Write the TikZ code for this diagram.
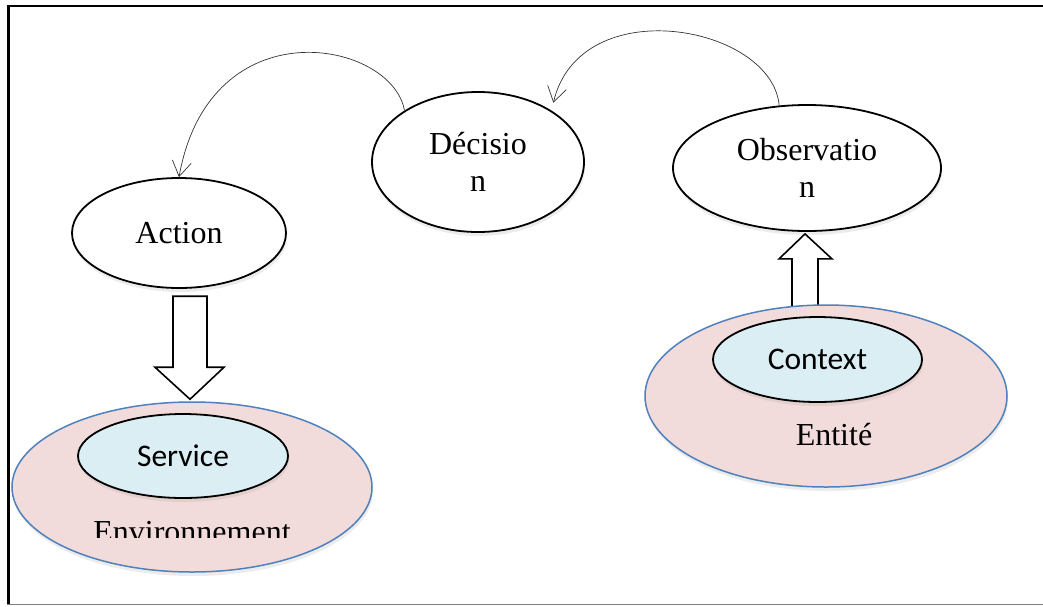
\documentclass[tikz,border=0pt]{standalone}
\usepackage{fontspec}
\setmainfont{Liberation Serif}
\newfontfamily\calfont{Carlito}
\usetikzlibrary{shapes.geometric,arrows.meta,shadows,calc}
\definecolor{pinkf}{HTML}{F2DCDB}
\definecolor{bluef}{HTML}{DBEEF4}
\definecolor{blueb}{HTML}{4F81BD}
\begin{document}
\begin{tikzpicture}[x=1pt,y=-1pt,
  oval/.style={ellipse, draw=black, line width=1.8pt, fill=white, inner sep=0pt,
    font=\fontsize{32}{37}\selectfont, align=center},
  outerov/.style={ellipse, draw=blueb, line width=1.5pt, fill=pinkf, inner sep=0pt},
  innerov/.style={ellipse, draw=black, line width=1.8pt, fill=bluef, inner sep=0pt,
    font=\calfont\fontsize{31.5}{36}\selectfont},
  txt/.style={font=\fontsize{32}{37}\selectfont, anchor=base, inner sep=0pt},
  blk/.style={draw=black, line width=1.6pt, fill=white, line join=miter},
  curve/.style={draw=black!80, line width=0.7pt,
    -{Straight Barb[length=15pt,width=19pt,line width=0.7pt]}},
  shad/.style={drop shadow={opacity=0.15, shadow xshift=1pt, shadow yshift=-4pt}}
]
\useasboundingbox (0,0) rectangle (1043,606);
\fill[white] (0,0) rectangle (1043,606);
% frame
\draw[line width=2.5pt] (1043,6) -- (8.5,6) -- (8.5,603.5);
\draw[gray, line width=1.5pt] (7,604.5) -- (1043,604.5);

% top ellipses
\node[oval, shad, minimum width=214pt, minimum height=110pt] (act) at (179,233) {Action};
\node[oval, shad, minimum width=212pt, minimum height=140pt] (dec) at (478,162) {Décisio\\n};
\node[oval, shad, minimum width=268pt, minimum height=126pt] (obs) at (807,168) {Observatio\\n};

% curved arrows
\draw[curve] (dec.145.6) .. controls (392,40) and (210,5) .. (act.north);
\draw[curve, shorten >=8pt] (obs.114) .. controls (772,25) and (580,-10) .. (dec.35);

% block arrows (drawn before the lower ellipses)
\coordinate (uptip) at ($(obs.south)+(-2,2)$);
\draw[blk] (uptip) -- ++(27,25) -- ++(-14,0) -- ++(0,57) -- ++(-26,0) -- ++(0,-57) -- ++(-13,0) -- cycle;

% lower left group
\node[outerov, shad, minimum width=360pt, minimum height=170pt] (env) at (192,487) {};
\coordinate (dntip) at ($(env.north)+(-2,-2)$);
\draw[blk] (dntip) -- ++(34,-32) -- ++(-17,0) -- ++(0,-71) -- ++(-34,0) -- ++(0,71) -- ++(-18,0) -- cycle;
\node[innerov, shad, minimum width=210pt, minimum height=84pt] (srv) at (183,456) {Service};
\begin{scope}
\clip (0,400) rectangle (1043,537.5);
\node[txt] (envt) at (192,542) {Environnement};
\end{scope}

% lower right group
\node[outerov, shad, minimum width=362pt, minimum height=182pt] (ent) at (826,396) {};
\node[innerov, shad, minimum width=209pt, minimum height=85pt] (ctx) at (817.5,359.5) {Context};
\node[txt] (entt) at (834,445) {Entité};
\end{tikzpicture}
\end{document}
